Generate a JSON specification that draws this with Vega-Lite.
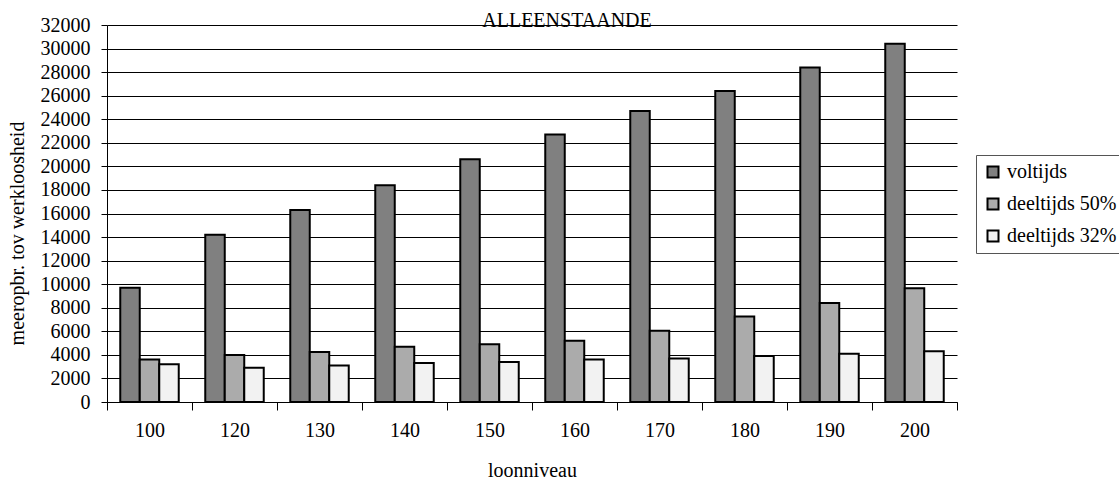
{
  "$schema": "https://vega.github.io/schema/vega-lite/v6.json",
  "autosize": {"type": "none"},
  "padding": {"left": 107, "top": 25, "right": 162, "bottom": 81},
  "width": 850,
  "height": 377,
  "background": "white",
  "title": {
    "text": "ALLEENSTAANDE",
    "font": "Liberation Serif",
    "fontSize": 20,
    "fontWeight": "normal",
    "color": "black",
    "anchor": "middle",
    "dx": 35,
    "offset": -16
  },
  "data": {
    "values": [
      {"loon": "100", "reeks": "voltijds", "waarde": 9700},
      {"loon": "100", "reeks": "deeltijds 50%", "waarde": 3600},
      {"loon": "100", "reeks": "deeltijds 32%", "waarde": 3200},
      {"loon": "120", "reeks": "voltijds", "waarde": 14200},
      {"loon": "120", "reeks": "deeltijds 50%", "waarde": 4000},
      {"loon": "120", "reeks": "deeltijds 32%", "waarde": 2900},
      {"loon": "130", "reeks": "voltijds", "waarde": 16300},
      {"loon": "130", "reeks": "deeltijds 50%", "waarde": 4250},
      {"loon": "130", "reeks": "deeltijds 32%", "waarde": 3100},
      {"loon": "140", "reeks": "voltijds", "waarde": 18400},
      {"loon": "140", "reeks": "deeltijds 50%", "waarde": 4700},
      {"loon": "140", "reeks": "deeltijds 32%", "waarde": 3300},
      {"loon": "150", "reeks": "voltijds", "waarde": 20600},
      {"loon": "150", "reeks": "deeltijds 50%", "waarde": 4900},
      {"loon": "150", "reeks": "deeltijds 32%", "waarde": 3400},
      {"loon": "160", "reeks": "voltijds", "waarde": 22700},
      {"loon": "160", "reeks": "deeltijds 50%", "waarde": 5200},
      {"loon": "160", "reeks": "deeltijds 32%", "waarde": 3600},
      {"loon": "170", "reeks": "voltijds", "waarde": 24700},
      {"loon": "170", "reeks": "deeltijds 50%", "waarde": 6050},
      {"loon": "170", "reeks": "deeltijds 32%", "waarde": 3700},
      {"loon": "180", "reeks": "voltijds", "waarde": 26400},
      {"loon": "180", "reeks": "deeltijds 50%", "waarde": 7250},
      {"loon": "180", "reeks": "deeltijds 32%", "waarde": 3900},
      {"loon": "190", "reeks": "voltijds", "waarde": 28400},
      {"loon": "190", "reeks": "deeltijds 50%", "waarde": 8400},
      {"loon": "190", "reeks": "deeltijds 32%", "waarde": 4100},
      {"loon": "200", "reeks": "voltijds", "waarde": 30400},
      {"loon": "200", "reeks": "deeltijds 50%", "waarde": 9650},
      {"loon": "200", "reeks": "deeltijds 32%", "waarde": 4300}
    ]
  },
  "mark": {"type": "bar", "stroke": "black", "strokeWidth": 2},
  "encoding": {
    "x": {
      "field": "loon",
      "type": "ordinal",
      "sort": null,
      "scale": {"paddingInner": 0, "paddingOuter": 0},
      "axis": {
        "title": "loonniveau",
        "labelAngle": 0,
        "labelFont": "Liberation Serif",
        "labelFontSize": 20,
        "labelColor": "black",
        "labelPadding": 10,
        "tickBand": "extent",
        "tickSize": 8,
        "tickColor": "black",
        "domainColor": "black",
        "titleFont": "Liberation Serif",
        "titleFontSize": 20,
        "titleFontWeight": "normal",
        "titleColor": "black",
        "titleBaseline": "alphabetic",
        "titleY": 74,
        "grid": false
      }
    },
    "xOffset": {
      "field": "reeks",
      "type": "nominal",
      "sort": ["voltijds", "deeltijds 50%", "deeltijds 32%"],
      "scale": {"paddingInner": 0, "paddingOuter": 0.68}
    },
    "y": {
      "field": "waarde",
      "type": "quantitative",
      "scale": {"domain": [0, 32000], "nice": false},
      "axis": {
        "title": "meeropbr. tov werkloosheid",
        "values": [0, 2000, 4000, 6000, 8000, 10000, 12000, 14000, 16000, 18000, 20000, 22000, 24000, 26000, 28000, 30000, 32000],
        "format": "d",
        "labelFont": "Liberation Serif",
        "labelFontSize": 20,
        "labelColor": "black",
        "labelPadding": 11,
        "tickSize": 6,
        "tickColor": "black",
        "domainColor": "black",
        "gridColor": "black",
        "gridOpacity": 1,
        "gridWidth": 1,
        "titleFont": "Liberation Serif",
        "titleFontSize": 20,
        "titleFontWeight": "normal",
        "titleColor": "black",
        "titleAngle": -90,
        "titleBaseline": "middle",
        "titleAlign": "center",
        "titleX": -90,
        "titleY": 208
      }
    },
    "fill": {
      "field": "reeks",
      "type": "nominal",
      "sort": ["voltijds", "deeltijds 50%", "deeltijds 32%"],
      "scale": {"domain": ["voltijds", "deeltijds 50%", "deeltijds 32%"], "range": ["#808080", "#ababab", "#f2f2f2"]},
      "legend": {
        "title": null,
        "orient": "none",
        "legendX": 869,
        "legendY": 130,
        "strokeColor": "#555555",
        "padding": 7,
        "symbolType": "square",
        "symbolSize": 121,
        "symbolStrokeColor": "black",
        "symbolStrokeWidth": 2,
        "labelFont": "Liberation Serif",
        "labelFontSize": 20,
        "labelColor": "black",
        "labelOffset": 4,
        "rowPadding": 12,
        "labelLimit": 300
      }
    }
  },
  "config": {"view": {"stroke": null}}
}
